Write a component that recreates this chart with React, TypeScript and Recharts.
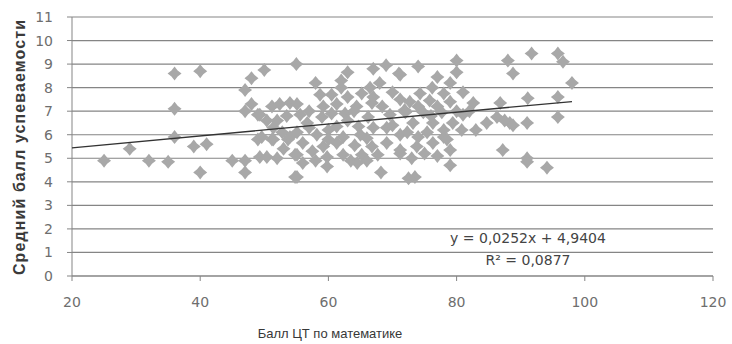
import React from "react";
import { ScatterChart, Scatter, XAxis, YAxis, CartesianGrid, Label } from "recharts";

// ЦТ score (x) and average grade (y)
const scoreX = [
  25, 29, 32, 35, 36, 36, 36, 39, 40, 40, 41, 45, 47, 47, 47, 48, 47, 48, 49, 50,
  49, 49.3, 50.4, 50.4, 51.2, 52.4, 54, 51.4, 52.8, 53.7, 51.4, 54.8, 54.8, 54, 55, 49.3, 49.6, 51.2,
  63, 67, 69, 71, 58, 62, 66.5, 68, 58.7, 60.5, 63, 65.2, 70, 71.2, 55.1, 59.2, 61.3, 64.4,
  66.8, 68.4, 55.6, 59, 62.6, 66.2, 69.6, 71.9, 56.7, 61.3, 64.7, 69.1, 55.1, 58.2, 62.3, 66,
  71.2, 56, 59.2, 61.3, 64.1, 66.8, 69.1, 55.1, 59.8, 62.3, 65.2, 67.7, 71.2, 59.8, 68.2, 55.1,
  57, 60, 63, 65, 67, 57.5, 63.5, 66, 60.5, 58, 56, 53, 52, 57, 64, 67, 62, 52, 53.5, 60, 64.5,
  80, 74, 80, 88, 88.8, 71.2, 77, 79, 76.2, 74.3, 78, 81, 72.7, 75.8, 79, 82.6, 86.8, 72, 74.8,
  77.7, 81, 84.7, 86.3, 88.3, 73.2, 76.3, 79.4, 72.3, 75.4, 78, 80.8, 73.8, 76.3, 79, 71.2, 87.2,
  79, 73.5, 72.5, 74, 77, 76, 78, 74, 82, 80, 75, 77, 83, 70, 73, 78.5,
  91.7, 95.8, 96.6, 98, 91.1, 95.8, 87.5, 88.8, 91, 95.8, 91, 91, 94.1,
];
const gradeY = [
  4.9, 5.4, 4.9, 4.85, 8.6, 7.1, 5.9, 5.5, 8.7, 4.4, 5.6, 4.9, 4.9, 4.4, 7.9, 8.4, 7.0, 7.3, 6.85, 8.75,
  5.8, 5.05, 5.05, 6.6, 7.2, 7.3, 7.35, 6.3, 6.1, 5.8, 5.8, 5.15, 4.2, 5.9, 9.0, 6.85, 5.9, 5.8,
  8.65, 8.8, 8.95, 8.6, 8.2, 8.0, 8.0, 8.2, 7.7, 7.7, 7.6, 7.75, 7.8, 7.5, 7.3, 7.2, 7.3, 7.2,
  7.35, 7.2, 6.85, 6.75, 6.9, 6.75, 6.85, 7.05, 6.5, 6.35, 6.35, 6.3, 6.1, 6.0, 5.9, 5.85,
  6.0, 5.65, 5.5, 5.65, 5.55, 5.5, 5.65, 5.15, 5.05, 5.15, 5.15, 5.15, 5.2, 4.65, 4.4, 4.2,
  7.0, 6.2, 6.6, 6.0, 6.3, 5.3, 4.9, 4.9, 6.9, 4.9, 4.8, 5.4, 5.0, 6.3, 7.0, 7.6, 8.3, 6.6, 6.8, 5.8, 4.8,
  9.15, 8.9, 8.65, 9.15, 8.6, 8.55, 8.45, 8.2, 8.0, 7.75, 7.75, 7.8, 7.4, 7.45, 7.4, 7.35, 7.35, 6.95, 6.95,
  6.95, 6.85, 6.5, 6.75, 6.5, 6.5, 6.5, 6.5, 6.1, 6.1, 5.9, 6.2, 5.5, 5.65, 5.35, 5.35, 5.35,
  4.7, 4.2, 4.15, 7.2, 7.2, 6.8, 6.2, 5.9, 7.0, 7.0, 5.2, 5.1, 6.2, 6.4, 5.0, 5.8,
  9.45, 9.45, 9.1, 8.2, 7.55, 7.6, 6.6, 6.4, 6.5, 6.75, 5.0, 4.85, 4.6,
];

const xTicks = [20, 40, 60, 80, 100, 120];
const yTicks = [0, 1, 2, 3, 4, 5, 6, 7, 8, 9, 10, 11];
const trendSlope = 0.0252;
const trendIntercept = 4.9404;
const trendRange = [20, 98];
const equationText = "y = 0,0252x + 4,9404";
const r2Text = "R² = 0,0877";
const xTitle = "Балл ЦТ по математике";
const yTitle = "Средний балл успеваемости";

const points = scoreX.map((x, i) => ({ x, y: gradeY[i] }));
const trend = trendRange.map((x) => ({ x, y: trendSlope * x + trendIntercept }));

const TICK_FONT = "DejaVu Sans, sans-serif";

const Diamond = (props: any) => {
  const { cx, cy } = props;
  if (cx == null || cy == null) return null;
  const r = 7;
  const m = 3.1;
  const d = `M${cx},${cy - r} L${cx + m},${cy - m} L${cx + r},${cy} L${cx + m},${cy + m} L${cx},${cy + r} L${cx - m},${cy + m} L${cx - r},${cy} L${cx - m},${cy - m} Z`;
  return <path d={d} fill="#a8a8a8" />;
};

const NoDot = () => null;

export default function App() {
  return (
    <div style={{ position: "absolute", left: 0, top: 0, width: 732, height: 344, background: "#fff" }}>
      <ScatterChart width={732} height={344} margin={{ top: 17, right: 19, left: 0, bottom: 0 }}>
        <CartesianGrid vertical={false} stroke="#858585" strokeWidth={1.2} />
        <XAxis
          type="number"
          dataKey="x"
          domain={[20, 120]}
          ticks={xTicks}
          height={68}
          stroke="#858585"
          tickSize={5}
          tickMargin={16}
          tick={{ fill: "#6e6e6e", fontSize: 14, fontFamily: TICK_FONT }}
        >
          <Label
            content={() => (
              <text x={330} y={338} textAnchor="middle" fill="#383838" fontSize={13} fontFamily="Liberation Sans, sans-serif">
                {xTitle}
              </text>
            )}
          />
        </XAxis>
        <YAxis
          type="number"
          dataKey="y"
          domain={[0, 11]}
          ticks={yTicks}
          width={72}
          stroke="#858585"
          tickSize={5}
          tickMargin={14}
          interval={0}
          tick={{ fill: "#6e6e6e", fontSize: 14, fontFamily: TICK_FONT }}
        >
          <Label
            content={() => (
              <text
                x={0}
                y={0}
                transform="translate(25,147) rotate(-90)"
                textAnchor="middle"
                fill="#3a3a3a"
                fontSize={16}
                fontWeight="bold"
                fontFamily="Liberation Sans, sans-serif"
                letterSpacing={1.1}
              >
                {yTitle}
              </text>
            )}
          />
        </YAxis>
        <Scatter data={points} shape={Diamond} isAnimationActive={false} />
        <Scatter data={trend} line={{ stroke: "#333", strokeWidth: 1.3 }} shape={NoDot} isAnimationActive={false} />
      </ScatterChart>
      <div
        style={{
          position: "absolute",
          left: 443,
          top: 227,
          width: 170,
          textAlign: "center",
          fontFamily: TICK_FONT,
          fontSize: 14,
          color: "#444",
          lineHeight: "22px",
          whiteSpace: "nowrap",
        }}
      >
        <div>{equationText}</div>
        <div>{r2Text}</div>
      </div>
    </div>
  );
}
